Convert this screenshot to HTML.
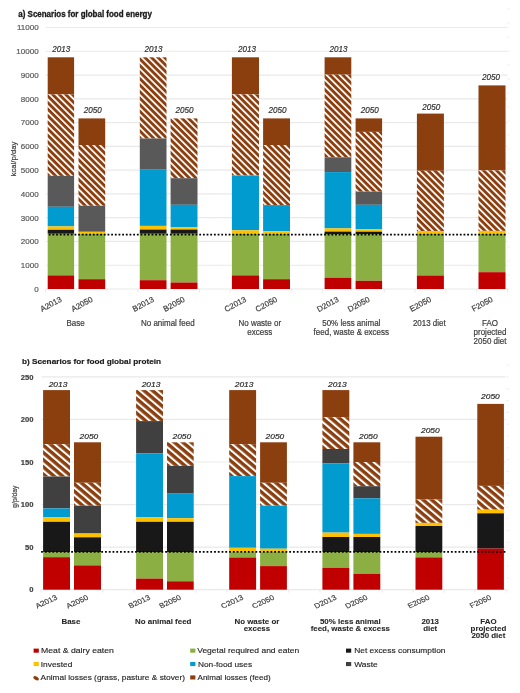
<!DOCTYPE html>
<html><head><meta charset="utf-8"><title>Scenarios for global food energy and protein</title>
<style>html,body{margin:0;padding:0;background:#fff;width:520px;height:693px;overflow:hidden;font-family:"Liberation Sans",sans-serif}</style>
</head><body>
<svg width="520" height="693" viewBox="0 0 520 693" style="display:block;will-change:transform;font-family:&quot;Liberation Sans&quot;, sans-serif">
<defs>
<pattern id="ha_477_944" patternUnits="userSpaceOnUse" width="4.63" height="10" patternTransform="translate(48.1,94.4) scale(1,1) rotate(-45)"><rect width="4.63" height="10" fill="#8B3E0E"/><rect width="1.74" height="10" fill="#fff"/></pattern>
<pattern id="ha_785_1450" patternUnits="userSpaceOnUse" width="4.63" height="10" patternTransform="translate(78.9,145) scale(1,1) rotate(-45)"><rect width="4.63" height="10" fill="#8B3E0E"/><rect width="1.74" height="10" fill="#fff"/></pattern>
<pattern id="ha_1398_573" patternUnits="userSpaceOnUse" width="4.63" height="10" patternTransform="translate(140.2,57.3) scale(1,1) rotate(-45)"><rect width="4.63" height="10" fill="#8B3E0E"/><rect width="1.74" height="10" fill="#fff"/></pattern>
<pattern id="ha_1706_1184" patternUnits="userSpaceOnUse" width="4.63" height="10" patternTransform="translate(171,118.4) scale(1,1) rotate(-45)"><rect width="4.63" height="10" fill="#8B3E0E"/><rect width="1.74" height="10" fill="#fff"/></pattern>
<pattern id="ha_2319_944" patternUnits="userSpaceOnUse" width="4.63" height="10" patternTransform="translate(232.3,94.4) scale(1,1) rotate(-45)"><rect width="4.63" height="10" fill="#8B3E0E"/><rect width="1.74" height="10" fill="#fff"/></pattern>
<pattern id="ha_2631_1450" patternUnits="userSpaceOnUse" width="4.63" height="10" patternTransform="translate(263.5,145) scale(1,1) rotate(-45)"><rect width="4.63" height="10" fill="#8B3E0E"/><rect width="1.74" height="10" fill="#fff"/></pattern>
<pattern id="ha_3246_747" patternUnits="userSpaceOnUse" width="4.63" height="10" patternTransform="translate(325,74.7) scale(1,1) rotate(-45)"><rect width="4.63" height="10" fill="#8B3E0E"/><rect width="1.74" height="10" fill="#fff"/></pattern>
<pattern id="ha_3556_1319" patternUnits="userSpaceOnUse" width="4.63" height="10" patternTransform="translate(356,131.9) scale(1,1) rotate(-45)"><rect width="4.63" height="10" fill="#8B3E0E"/><rect width="1.74" height="10" fill="#fff"/></pattern>
<pattern id="ha_4169_1708" patternUnits="userSpaceOnUse" width="4.63" height="10" patternTransform="translate(417.3,170.8) scale(1,1) rotate(-45)"><rect width="4.63" height="10" fill="#8B3E0E"/><rect width="1.74" height="10" fill="#fff"/></pattern>
<pattern id="ha_4785_1704" patternUnits="userSpaceOnUse" width="4.63" height="10" patternTransform="translate(478.9,170.4) scale(1,1) rotate(-45)"><rect width="4.63" height="10" fill="#8B3E0E"/><rect width="1.74" height="10" fill="#fff"/></pattern>
<pattern id="hb_431_4442" patternUnits="userSpaceOnUse" width="6" height="10" patternTransform="translate(44.6,444.2) scale(1,0.85) rotate(-45)"><rect width="6" height="10" fill="#8B3E0E"/><rect width="2.25" height="10" fill="#fff"/></pattern>
<pattern id="hb_740_4828" patternUnits="userSpaceOnUse" width="6" height="10" patternTransform="translate(75.5,482.8) scale(1,0.85) rotate(-45)"><rect width="6" height="10" fill="#8B3E0E"/><rect width="2.25" height="10" fill="#fff"/></pattern>
<pattern id="hb_1361_3901" patternUnits="userSpaceOnUse" width="6" height="10" patternTransform="translate(137.6,390.1) scale(1,0.85) rotate(-45)"><rect width="6" height="10" fill="#8B3E0E"/><rect width="2.25" height="10" fill="#fff"/></pattern>
<pattern id="hb_1670_4423" patternUnits="userSpaceOnUse" width="6" height="10" patternTransform="translate(168.5,442.3) scale(1,0.85) rotate(-45)"><rect width="6" height="10" fill="#8B3E0E"/><rect width="2.25" height="10" fill="#fff"/></pattern>
<pattern id="hb_2292_4442" patternUnits="userSpaceOnUse" width="6" height="10" patternTransform="translate(230.7,444.2) scale(1,0.85) rotate(-45)"><rect width="6" height="10" fill="#8B3E0E"/><rect width="2.25" height="10" fill="#fff"/></pattern>
<pattern id="hb_2601_4828" patternUnits="userSpaceOnUse" width="6" height="10" patternTransform="translate(261.6,482.8) scale(1,0.85) rotate(-45)"><rect width="6" height="10" fill="#8B3E0E"/><rect width="2.25" height="10" fill="#fff"/></pattern>
<pattern id="hb_3224_4172" patternUnits="userSpaceOnUse" width="6" height="10" patternTransform="translate(323.9,417.2) scale(1,0.85) rotate(-45)"><rect width="6" height="10" fill="#8B3E0E"/><rect width="2.25" height="10" fill="#fff"/></pattern>
<pattern id="hb_3534_4620" patternUnits="userSpaceOnUse" width="6" height="10" patternTransform="translate(354.9,462) scale(1,0.85) rotate(-45)"><rect width="6" height="10" fill="#8B3E0E"/><rect width="2.25" height="10" fill="#fff"/></pattern>
<pattern id="hb_4155_4996" patternUnits="userSpaceOnUse" width="6" height="10" patternTransform="translate(417,499.6) scale(1,0.85) rotate(-45)"><rect width="6" height="10" fill="#8B3E0E"/><rect width="2.25" height="10" fill="#fff"/></pattern>
<pattern id="hb_4773_4859" patternUnits="userSpaceOnUse" width="6" height="10" patternTransform="translate(478.8,485.9) scale(1,0.85) rotate(-45)"><rect width="6" height="10" fill="#8B3E0E"/><rect width="2.25" height="10" fill="#fff"/></pattern>
</defs>
<text transform="translate(18.3,16.9) scale(1,1.1)" font-size="8.1" text-anchor="start" font-weight="bold" fill="#1a1a1a" stroke="#1a1a1a" stroke-width="0.3" textLength="133.6" lengthAdjust="spacingAndGlyphs">a) Scenarios for global food energy</text>
<line x1="46" x2="507.5" y1="289" y2="289" stroke="#e9e9e9" stroke-width="1.2"/>
<text x="38.6" y="291.9" font-size="8" text-anchor="end" fill="#595959" stroke="#595959" stroke-width="0.2">0</text>
<line x1="46" x2="507.5" y1="265.23" y2="265.23" stroke="#e9e9e9" stroke-width="1.2"/>
<text x="38.6" y="268.13" font-size="8" text-anchor="end" fill="#595959" stroke="#595959" stroke-width="0.2">1000</text>
<line x1="46" x2="507.5" y1="241.45" y2="241.45" stroke="#e9e9e9" stroke-width="1.2"/>
<text x="38.6" y="244.35" font-size="8" text-anchor="end" fill="#595959" stroke="#595959" stroke-width="0.2">2000</text>
<line x1="46" x2="507.5" y1="217.68" y2="217.68" stroke="#e9e9e9" stroke-width="1.2"/>
<text x="38.6" y="220.58" font-size="8" text-anchor="end" fill="#595959" stroke="#595959" stroke-width="0.2">3000</text>
<line x1="46" x2="507.5" y1="193.91" y2="193.91" stroke="#e9e9e9" stroke-width="1.2"/>
<text x="38.6" y="196.81" font-size="8" text-anchor="end" fill="#595959" stroke="#595959" stroke-width="0.2">4000</text>
<line x1="46" x2="507.5" y1="170.14" y2="170.14" stroke="#e9e9e9" stroke-width="1.2"/>
<text x="38.6" y="173.04" font-size="8" text-anchor="end" fill="#595959" stroke="#595959" stroke-width="0.2">5000</text>
<line x1="46" x2="507.5" y1="146.36" y2="146.36" stroke="#e9e9e9" stroke-width="1.2"/>
<text x="38.6" y="149.26" font-size="8" text-anchor="end" fill="#595959" stroke="#595959" stroke-width="0.2">6000</text>
<line x1="46" x2="507.5" y1="122.59" y2="122.59" stroke="#e9e9e9" stroke-width="1.2"/>
<text x="38.6" y="125.49" font-size="8" text-anchor="end" fill="#595959" stroke="#595959" stroke-width="0.2">7000</text>
<line x1="46" x2="507.5" y1="98.82" y2="98.82" stroke="#e9e9e9" stroke-width="1.2"/>
<text x="38.6" y="101.72" font-size="8" text-anchor="end" fill="#595959" stroke="#595959" stroke-width="0.2">8000</text>
<line x1="46" x2="507.5" y1="75.05" y2="75.05" stroke="#e9e9e9" stroke-width="1.2"/>
<text x="38.6" y="77.95" font-size="8" text-anchor="end" fill="#595959" stroke="#595959" stroke-width="0.2">9000</text>
<line x1="46" x2="507.5" y1="51.27" y2="51.27" stroke="#e9e9e9" stroke-width="1.2"/>
<text x="38.6" y="54.17" font-size="8" text-anchor="end" fill="#595959" stroke="#595959" stroke-width="0.2">10000</text>
<line x1="46" x2="507.5" y1="27.5" y2="27.5" stroke="#e9e9e9" stroke-width="1.2"/>
<text x="38.6" y="30.4" font-size="8" text-anchor="end" fill="#595959" stroke="#595959" stroke-width="0.2">11000</text>
<line x1="507.5" x2="509.5" y1="289" y2="289" stroke="#e4e4e4" stroke-width="0.8"/>
<line x1="507.5" x2="509.5" y1="275" y2="275" stroke="#e4e4e4" stroke-width="0.8"/>
<line x1="507.5" x2="509.5" y1="261" y2="261" stroke="#e4e4e4" stroke-width="0.8"/>
<line x1="507.5" x2="509.5" y1="247" y2="247" stroke="#e4e4e4" stroke-width="0.8"/>
<line x1="507.5" x2="509.5" y1="233" y2="233" stroke="#e4e4e4" stroke-width="0.8"/>
<line x1="507.5" x2="509.5" y1="219" y2="219" stroke="#e4e4e4" stroke-width="0.8"/>
<line x1="507.5" x2="509.5" y1="205" y2="205" stroke="#e4e4e4" stroke-width="0.8"/>
<line x1="507.5" x2="509.5" y1="191" y2="191" stroke="#e4e4e4" stroke-width="0.8"/>
<line x1="507.5" x2="509.5" y1="177" y2="177" stroke="#e4e4e4" stroke-width="0.8"/>
<line x1="507.5" x2="509.5" y1="163" y2="163" stroke="#e4e4e4" stroke-width="0.8"/>
<line x1="507.5" x2="509.5" y1="149" y2="149" stroke="#e4e4e4" stroke-width="0.8"/>
<line x1="507.5" x2="509.5" y1="135" y2="135" stroke="#e4e4e4" stroke-width="0.8"/>
<line x1="507.5" x2="509.5" y1="121" y2="121" stroke="#e4e4e4" stroke-width="0.8"/>
<line x1="507.5" x2="509.5" y1="107" y2="107" stroke="#e4e4e4" stroke-width="0.8"/>
<line x1="507.5" x2="509.5" y1="93" y2="93" stroke="#e4e4e4" stroke-width="0.8"/>
<line x1="507.5" x2="509.5" y1="79" y2="79" stroke="#e4e4e4" stroke-width="0.8"/>
<line x1="507.5" x2="509.5" y1="65" y2="65" stroke="#e4e4e4" stroke-width="0.8"/>
<line x1="507.5" x2="509.5" y1="51" y2="51" stroke="#e4e4e4" stroke-width="0.8"/>
<line x1="507.5" x2="509.5" y1="37" y2="37" stroke="#e4e4e4" stroke-width="0.8"/>
<line x1="507.5" x2="509.5" y1="23" y2="23" stroke="#e4e4e4" stroke-width="0.8"/>
<line x1="507.5" x2="509.5" y1="9" y2="9" stroke="#e4e4e4" stroke-width="0.8"/>
<line x1="45.5" x2="45.5" y1="289" y2="292.5" stroke="#e6e6e6" stroke-width="0.9"/>
<line x1="107.1" x2="107.1" y1="289" y2="292.5" stroke="#e6e6e6" stroke-width="0.9"/>
<line x1="137.9" x2="137.9" y1="289" y2="292.5" stroke="#e6e6e6" stroke-width="0.9"/>
<line x1="199.5" x2="199.5" y1="289" y2="292.5" stroke="#e6e6e6" stroke-width="0.9"/>
<line x1="230.3" x2="230.3" y1="289" y2="292.5" stroke="#e6e6e6" stroke-width="0.9"/>
<line x1="291.9" x2="291.9" y1="289" y2="292.5" stroke="#e6e6e6" stroke-width="0.9"/>
<line x1="322.7" x2="322.7" y1="289" y2="292.5" stroke="#e6e6e6" stroke-width="0.9"/>
<line x1="384.3" x2="384.3" y1="289" y2="292.5" stroke="#e6e6e6" stroke-width="0.9"/>
<line x1="415.1" x2="415.1" y1="289" y2="292.5" stroke="#e6e6e6" stroke-width="0.9"/>
<line x1="445.9" x2="445.9" y1="289" y2="292.5" stroke="#e6e6e6" stroke-width="0.9"/>
<line x1="476.7" x2="476.7" y1="289" y2="292.5" stroke="#e6e6e6" stroke-width="0.9"/>
<line x1="507.5" x2="507.5" y1="289" y2="292.5" stroke="#e6e6e6" stroke-width="0.9"/>
<rect x="47.7" y="57.3" width="26.4" height="37.1" fill="#8B3E0E"/>
<rect x="47.7" y="94.4" width="26.4" height="81.5" fill="url(#ha_477_944)"/>
<rect x="47.7" y="175.9" width="26.4" height="30.9" fill="#595959"/>
<rect x="47.7" y="206.8" width="26.4" height="19.6" fill="#029BCF"/>
<rect x="47.7" y="226.4" width="26.4" height="3.4" fill="#FFC000"/>
<rect x="47.7" y="229.8" width="26.4" height="4" fill="#191819"/>
<rect x="47.7" y="233.8" width="26.4" height="41.6" fill="#8BAF42"/>
<rect x="47.7" y="275.4" width="26.4" height="13.6" fill="#C00000"/>
<rect x="78.5" y="118.4" width="26.7" height="26.6" fill="#8B3E0E"/>
<rect x="78.5" y="145" width="26.7" height="60.8" fill="url(#ha_785_1450)"/>
<rect x="78.5" y="205.8" width="26.7" height="26" fill="#595959"/>
<rect x="78.5" y="231.8" width="26.7" height="2" fill="#FFC000"/>
<rect x="78.5" y="233.8" width="26.7" height="45.4" fill="#8BAF42"/>
<rect x="78.5" y="279.2" width="26.7" height="9.8" fill="#C00000"/>
<rect x="139.8" y="57.3" width="26.7" height="81.2" fill="url(#ha_1398_573)"/>
<rect x="139.8" y="138.5" width="26.7" height="31.2" fill="#595959"/>
<rect x="139.8" y="169.7" width="26.7" height="56.2" fill="#029BCF"/>
<rect x="139.8" y="225.9" width="26.7" height="3.7" fill="#FFC000"/>
<rect x="139.8" y="229.6" width="26.7" height="4.2" fill="#191819"/>
<rect x="139.8" y="233.8" width="26.7" height="46.4" fill="#8BAF42"/>
<rect x="139.8" y="280.2" width="26.7" height="8.8" fill="#C00000"/>
<rect x="170.6" y="118.4" width="26.9" height="59.8" fill="url(#ha_1706_1184)"/>
<rect x="170.6" y="178.2" width="26.9" height="26.6" fill="#595959"/>
<rect x="170.6" y="204.8" width="26.9" height="22.5" fill="#029BCF"/>
<rect x="170.6" y="227.3" width="26.9" height="2.3" fill="#FFC000"/>
<rect x="170.6" y="229.6" width="26.9" height="4.2" fill="#191819"/>
<rect x="170.6" y="233.8" width="26.9" height="48.7" fill="#8BAF42"/>
<rect x="170.6" y="282.5" width="26.9" height="6.5" fill="#C00000"/>
<rect x="231.9" y="57.3" width="27.1" height="37.1" fill="#8B3E0E"/>
<rect x="231.9" y="94.4" width="27.1" height="81.1" fill="url(#ha_2319_944)"/>
<rect x="231.9" y="175.5" width="27.1" height="54.8" fill="#029BCF"/>
<rect x="231.9" y="230.3" width="27.1" height="3.5" fill="#FFC000"/>
<rect x="231.9" y="233.8" width="27.1" height="41.6" fill="#8BAF42"/>
<rect x="231.9" y="275.4" width="27.1" height="13.6" fill="#C00000"/>
<rect x="263.1" y="118.4" width="26.9" height="26.6" fill="#8B3E0E"/>
<rect x="263.1" y="145" width="26.9" height="60.1" fill="url(#ha_2631_1450)"/>
<rect x="263.1" y="205.1" width="26.9" height="26.2" fill="#029BCF"/>
<rect x="263.1" y="231.3" width="26.9" height="2.5" fill="#FFC000"/>
<rect x="263.1" y="233.8" width="26.9" height="45.4" fill="#8BAF42"/>
<rect x="263.1" y="279.2" width="26.9" height="9.8" fill="#C00000"/>
<rect x="324.6" y="57.3" width="26.7" height="17.4" fill="#8B3E0E"/>
<rect x="324.6" y="74.7" width="26.7" height="82.6" fill="url(#ha_3246_747)"/>
<rect x="324.6" y="157.3" width="26.7" height="14.8" fill="#595959"/>
<rect x="324.6" y="172.1" width="26.7" height="56.3" fill="#029BCF"/>
<rect x="324.6" y="228.4" width="26.7" height="3.2" fill="#FFC000"/>
<rect x="324.6" y="231.6" width="26.7" height="2.4" fill="#191819"/>
<rect x="324.6" y="234" width="26.7" height="43.7" fill="#8BAF42"/>
<rect x="324.6" y="277.7" width="26.7" height="11.3" fill="#C00000"/>
<rect x="355.6" y="118.4" width="26.5" height="13.5" fill="#8B3E0E"/>
<rect x="355.6" y="131.9" width="26.5" height="59.7" fill="url(#ha_3556_1319)"/>
<rect x="355.6" y="191.6" width="26.5" height="13.2" fill="#595959"/>
<rect x="355.6" y="204.8" width="26.5" height="24.5" fill="#029BCF"/>
<rect x="355.6" y="229.3" width="26.5" height="2.4" fill="#FFC000"/>
<rect x="355.6" y="231.7" width="26.5" height="2.3" fill="#191819"/>
<rect x="355.6" y="234" width="26.5" height="46.8" fill="#8BAF42"/>
<rect x="355.6" y="280.8" width="26.5" height="8.2" fill="#C00000"/>
<rect x="416.9" y="113.6" width="27" height="57.2" fill="#8B3E0E"/>
<rect x="416.9" y="170.8" width="27" height="60.2" fill="url(#ha_4169_1708)"/>
<rect x="416.9" y="231" width="27" height="2.8" fill="#FFC000"/>
<rect x="416.9" y="233.8" width="27" height="41.7" fill="#8BAF42"/>
<rect x="416.9" y="275.5" width="27" height="13.5" fill="#C00000"/>
<rect x="478.5" y="85.4" width="27" height="85" fill="#8B3E0E"/>
<rect x="478.5" y="170.4" width="27" height="60.5" fill="url(#ha_4785_1704)"/>
<rect x="478.5" y="230.9" width="27" height="2.9" fill="#FFC000"/>
<rect x="478.5" y="233.8" width="27" height="38.4" fill="#8BAF42"/>
<rect x="478.5" y="272.2" width="27" height="16.8" fill="#C00000"/>
<line x1="48.8" x2="505.7" y1="234.7" y2="234.7" stroke="#000" stroke-width="1.8" stroke-dasharray="1.8 1.87"/>
<rect x="51.75" y="44.7" width="19.6" height="8" fill="#fff"/>
<text transform="translate(61.35,52.2) scale(1,1.1)" font-size="8.1" text-anchor="middle" font-style="italic" fill="#333333" stroke="#333333" stroke-width="0.2">2013</text>
<rect x="83.2" y="105.4" width="19.6" height="8" fill="#fff"/>
<text transform="translate(92.8,112.9) scale(1,1.1)" font-size="8.1" text-anchor="middle" font-style="italic" fill="#333333" stroke="#333333" stroke-width="0.2">2050</text>
<rect x="143.95" y="44.7" width="19.6" height="8" fill="#fff"/>
<text transform="translate(153.55,52.2) scale(1,1.1)" font-size="8.1" text-anchor="middle" font-style="italic" fill="#333333" stroke="#333333" stroke-width="0.2">2013</text>
<rect x="174.95" y="105.4" width="19.6" height="8" fill="#fff"/>
<text transform="translate(184.55,112.9) scale(1,1.1)" font-size="8.1" text-anchor="middle" font-style="italic" fill="#333333" stroke="#333333" stroke-width="0.2">2050</text>
<rect x="237.35" y="44.7" width="19.6" height="8" fill="#fff"/>
<text transform="translate(246.95,52.2) scale(1,1.1)" font-size="8.1" text-anchor="middle" font-style="italic" fill="#333333" stroke="#333333" stroke-width="0.2">2013</text>
<rect x="267.85" y="105.4" width="19.6" height="8" fill="#fff"/>
<text transform="translate(277.45,112.9) scale(1,1.1)" font-size="8.1" text-anchor="middle" font-style="italic" fill="#333333" stroke="#333333" stroke-width="0.2">2050</text>
<rect x="328.95" y="44.7" width="19.6" height="8" fill="#fff"/>
<text transform="translate(338.55,52.2) scale(1,1.1)" font-size="8.1" text-anchor="middle" font-style="italic" fill="#333333" stroke="#333333" stroke-width="0.2">2013</text>
<rect x="360.25" y="105.4" width="19.6" height="8" fill="#fff"/>
<text transform="translate(369.85,112.9) scale(1,1.1)" font-size="8.1" text-anchor="middle" font-style="italic" fill="#333333" stroke="#333333" stroke-width="0.2">2050</text>
<rect x="421.65" y="102" width="19.6" height="8" fill="#fff"/>
<text transform="translate(431.25,109.5) scale(1,1.1)" font-size="8.1" text-anchor="middle" font-style="italic" fill="#333333" stroke="#333333" stroke-width="0.2">2050</text>
<rect x="481.35" y="72" width="19.6" height="8" fill="#fff"/>
<text transform="translate(490.95,79.5) scale(1,1.1)" font-size="8.1" text-anchor="middle" font-style="italic" fill="#333333" stroke="#333333" stroke-width="0.2">2050</text>
<text transform="translate(62.4,301.1) rotate(-28)" font-size="8" text-anchor="end" fill="#404040" stroke="#404040" stroke-width="0.2">A2013</text>
<text transform="translate(93.35,301.1) rotate(-28)" font-size="8" text-anchor="end" fill="#404040" stroke="#404040" stroke-width="0.2">A2050</text>
<text transform="translate(154.65,301.1) rotate(-28)" font-size="8" text-anchor="end" fill="#404040" stroke="#404040" stroke-width="0.2">B2013</text>
<text transform="translate(185.55,301.1) rotate(-28)" font-size="8" text-anchor="end" fill="#404040" stroke="#404040" stroke-width="0.2">B2050</text>
<text transform="translate(246.95,301.1) rotate(-28)" font-size="8" text-anchor="end" fill="#404040" stroke="#404040" stroke-width="0.2">C2013</text>
<text transform="translate(278.05,301.1) rotate(-28)" font-size="8" text-anchor="end" fill="#404040" stroke="#404040" stroke-width="0.2">C2050</text>
<text transform="translate(339.45,301.1) rotate(-28)" font-size="8" text-anchor="end" fill="#404040" stroke="#404040" stroke-width="0.2">D2013</text>
<text transform="translate(370.35,301.1) rotate(-28)" font-size="8" text-anchor="end" fill="#404040" stroke="#404040" stroke-width="0.2">D2050</text>
<text transform="translate(431.9,301.1) rotate(-28)" font-size="8" text-anchor="end" fill="#404040" stroke="#404040" stroke-width="0.2">E2050</text>
<text transform="translate(493.5,301.1) rotate(-28)" font-size="8" text-anchor="end" fill="#404040" stroke="#404040" stroke-width="0.2">F2050</text>
<text transform="translate(16.1,159) rotate(-90)" font-size="7.75" text-anchor="middle" fill="#404040" stroke="#404040" stroke-width="0.2">kcal/p/day</text>
<text transform="translate(75.5,326.2) scale(1,1.1)" font-size="8" text-anchor="middle" fill="#404040" stroke="#404040" stroke-width="0.2">Base</text>
<text transform="translate(167.8,326.2) scale(1,1.1)" font-size="8" text-anchor="middle" fill="#404040" stroke="#404040" stroke-width="0.2">No animal feed</text>
<text transform="translate(259.8,326.2) scale(1,1.1)" font-size="8" text-anchor="middle" fill="#404040" stroke="#404040" stroke-width="0.2">No waste or</text>
<text transform="translate(259.8,335.1) scale(1,1.1)" font-size="8" text-anchor="middle" fill="#404040" stroke="#404040" stroke-width="0.2">excess</text>
<text transform="translate(351.3,326.2) scale(1,1.1)" font-size="8" text-anchor="middle" fill="#404040" stroke="#404040" stroke-width="0.2">50% less animal</text>
<text transform="translate(351.3,335.1) scale(1,1.1)" font-size="8" text-anchor="middle" fill="#404040" stroke="#404040" stroke-width="0.2">feed, waste &amp; excess</text>
<text transform="translate(429.3,326.2) scale(1,1.1)" font-size="8" text-anchor="middle" fill="#404040" stroke="#404040" stroke-width="0.2">2013 diet</text>
<text transform="translate(490,326.2) scale(1,1.1)" font-size="8" text-anchor="middle" fill="#404040" stroke="#404040" stroke-width="0.2">FAO</text>
<text transform="translate(490,335.1) scale(1,1.1)" font-size="8" text-anchor="middle" fill="#404040" stroke="#404040" stroke-width="0.2">projected</text>
<text transform="translate(490,344) scale(1,1.1)" font-size="8" text-anchor="middle" fill="#404040" stroke="#404040" stroke-width="0.2">2050 diet</text>
<text transform="translate(22,364.2) scale(1,0.85)" font-size="8.3" text-anchor="start" font-weight="bold" fill="#1a1a1a" stroke="#1a1a1a" stroke-width="0.2" textLength="139.0" lengthAdjust="spacingAndGlyphs">b) Scenarios for food global protein</text>
<line x1="41.5" x2="505.5" y1="589.7" y2="589.7" stroke="#e9e9e9" stroke-width="1.2"/>
<text transform="translate(33.4,592.4) scale(1,0.92)" font-size="7.6" text-anchor="end" font-weight="bold" fill="#404040" stroke="#404040" stroke-width="0.2">0</text>
<line x1="41.5" x2="505.5" y1="547.14" y2="547.14" stroke="#e9e9e9" stroke-width="1.2"/>
<text transform="translate(33.4,549.84) scale(1,0.92)" font-size="7.6" text-anchor="end" font-weight="bold" fill="#404040" stroke="#404040" stroke-width="0.2">50</text>
<line x1="41.5" x2="505.5" y1="504.58" y2="504.58" stroke="#e9e9e9" stroke-width="1.2"/>
<text transform="translate(33.4,507.28) scale(1,0.92)" font-size="7.6" text-anchor="end" font-weight="bold" fill="#404040" stroke="#404040" stroke-width="0.2">100</text>
<line x1="41.5" x2="505.5" y1="462.02" y2="462.02" stroke="#e9e9e9" stroke-width="1.2"/>
<text transform="translate(33.4,464.72) scale(1,0.92)" font-size="7.6" text-anchor="end" font-weight="bold" fill="#404040" stroke="#404040" stroke-width="0.2">150</text>
<line x1="41.5" x2="505.5" y1="419.46" y2="419.46" stroke="#e9e9e9" stroke-width="1.2"/>
<text transform="translate(33.4,422.16) scale(1,0.92)" font-size="7.6" text-anchor="end" font-weight="bold" fill="#404040" stroke="#404040" stroke-width="0.2">200</text>
<line x1="41.5" x2="505.5" y1="376.9" y2="376.9" stroke="#e9e9e9" stroke-width="1.2"/>
<text transform="translate(33.4,379.6) scale(1,0.92)" font-size="7.6" text-anchor="end" font-weight="bold" fill="#404040" stroke="#404040" stroke-width="0.2">250</text>
<line x1="506.5" x2="508.5" y1="589.7" y2="589.7" stroke="#e4e4e4" stroke-width="0.8"/>
<line x1="506.5" x2="508.5" y1="577.88" y2="577.88" stroke="#e4e4e4" stroke-width="0.8"/>
<line x1="506.5" x2="508.5" y1="566.06" y2="566.06" stroke="#e4e4e4" stroke-width="0.8"/>
<line x1="506.5" x2="508.5" y1="554.23" y2="554.23" stroke="#e4e4e4" stroke-width="0.8"/>
<line x1="506.5" x2="508.5" y1="542.41" y2="542.41" stroke="#e4e4e4" stroke-width="0.8"/>
<line x1="506.5" x2="508.5" y1="530.59" y2="530.59" stroke="#e4e4e4" stroke-width="0.8"/>
<line x1="506.5" x2="508.5" y1="518.77" y2="518.77" stroke="#e4e4e4" stroke-width="0.8"/>
<line x1="506.5" x2="508.5" y1="506.94" y2="506.94" stroke="#e4e4e4" stroke-width="0.8"/>
<line x1="506.5" x2="508.5" y1="495.12" y2="495.12" stroke="#e4e4e4" stroke-width="0.8"/>
<line x1="506.5" x2="508.5" y1="483.3" y2="483.3" stroke="#e4e4e4" stroke-width="0.8"/>
<line x1="506.5" x2="508.5" y1="471.48" y2="471.48" stroke="#e4e4e4" stroke-width="0.8"/>
<line x1="506.5" x2="508.5" y1="459.66" y2="459.66" stroke="#e4e4e4" stroke-width="0.8"/>
<line x1="506.5" x2="508.5" y1="447.83" y2="447.83" stroke="#e4e4e4" stroke-width="0.8"/>
<line x1="506.5" x2="508.5" y1="436.01" y2="436.01" stroke="#e4e4e4" stroke-width="0.8"/>
<line x1="506.5" x2="508.5" y1="424.19" y2="424.19" stroke="#e4e4e4" stroke-width="0.8"/>
<line x1="506.5" x2="508.5" y1="412.37" y2="412.37" stroke="#e4e4e4" stroke-width="0.8"/>
<line x1="506.5" x2="508.5" y1="400.54" y2="400.54" stroke="#e4e4e4" stroke-width="0.8"/>
<line x1="506.5" x2="508.5" y1="388.72" y2="388.72" stroke="#e4e4e4" stroke-width="0.8"/>
<line x1="506.5" x2="508.5" y1="376.9" y2="376.9" stroke="#e4e4e4" stroke-width="0.8"/>
<line x1="506.5" x2="508.5" y1="365.08" y2="365.08" stroke="#e4e4e4" stroke-width="0.8"/>
<line x1="41" x2="41" y1="589.7" y2="592.7" stroke="#e6e6e6" stroke-width="0.9"/>
<line x1="103" x2="103" y1="589.7" y2="592.7" stroke="#e6e6e6" stroke-width="0.9"/>
<line x1="134" x2="134" y1="589.7" y2="592.7" stroke="#e6e6e6" stroke-width="0.9"/>
<line x1="196" x2="196" y1="589.7" y2="592.7" stroke="#e6e6e6" stroke-width="0.9"/>
<line x1="227" x2="227" y1="589.7" y2="592.7" stroke="#e6e6e6" stroke-width="0.9"/>
<line x1="289" x2="289" y1="589.7" y2="592.7" stroke="#e6e6e6" stroke-width="0.9"/>
<line x1="320" x2="320" y1="589.7" y2="592.7" stroke="#e6e6e6" stroke-width="0.9"/>
<line x1="382" x2="382" y1="589.7" y2="592.7" stroke="#e6e6e6" stroke-width="0.9"/>
<line x1="413" x2="413" y1="589.7" y2="592.7" stroke="#e6e6e6" stroke-width="0.9"/>
<line x1="444" x2="444" y1="589.7" y2="592.7" stroke="#e6e6e6" stroke-width="0.9"/>
<line x1="475" x2="475" y1="589.7" y2="592.7" stroke="#e6e6e6" stroke-width="0.9"/>
<line x1="506" x2="506" y1="589.7" y2="592.7" stroke="#e6e6e6" stroke-width="0.9"/>
<rect x="43.1" y="390.1" width="26.9" height="54.1" fill="#8B3E0E"/>
<rect x="43.1" y="444.2" width="26.9" height="32.3" fill="url(#hb_431_4442)"/>
<rect x="43.1" y="476.5" width="26.9" height="31.9" fill="#404040"/>
<rect x="43.1" y="508.4" width="26.9" height="8.7" fill="#029BCF"/>
<rect x="43.1" y="517.1" width="26.9" height="4.7" fill="#FFC000"/>
<rect x="43.1" y="521.8" width="26.9" height="30.3" fill="#191819"/>
<rect x="43.1" y="552.1" width="26.9" height="5.1" fill="#8BAF42"/>
<rect x="43.1" y="557.2" width="26.9" height="32.5" fill="#C00000"/>
<rect x="74" y="442.3" width="27" height="40.5" fill="#8B3E0E"/>
<rect x="74" y="482.8" width="27" height="22.9" fill="url(#hb_740_4828)"/>
<rect x="74" y="505.7" width="27" height="27.8" fill="#404040"/>
<rect x="74" y="533.5" width="27" height="3.8" fill="#FFC000"/>
<rect x="74" y="537.3" width="27" height="14.7" fill="#191819"/>
<rect x="74" y="552" width="27" height="13.4" fill="#8BAF42"/>
<rect x="74" y="565.4" width="27" height="24.3" fill="#C00000"/>
<rect x="136.1" y="390.1" width="26.9" height="31" fill="url(#hb_1361_3901)"/>
<rect x="136.1" y="421.1" width="26.9" height="32.2" fill="#404040"/>
<rect x="136.1" y="453.3" width="26.9" height="63.8" fill="#029BCF"/>
<rect x="136.1" y="517.1" width="26.9" height="4.7" fill="#FFC000"/>
<rect x="136.1" y="521.8" width="26.9" height="30.2" fill="#191819"/>
<rect x="136.1" y="552" width="26.9" height="26.6" fill="#8BAF42"/>
<rect x="136.1" y="578.6" width="26.9" height="11.1" fill="#C00000"/>
<rect x="167" y="442.3" width="26.7" height="23.6" fill="url(#hb_1670_4423)"/>
<rect x="167" y="465.9" width="26.7" height="27.7" fill="#404040"/>
<rect x="167" y="493.6" width="26.7" height="24.6" fill="#029BCF"/>
<rect x="167" y="518.2" width="26.7" height="3.6" fill="#FFC000"/>
<rect x="167" y="521.8" width="26.7" height="30.2" fill="#191819"/>
<rect x="167" y="552" width="26.7" height="29.3" fill="#8BAF42"/>
<rect x="167" y="581.3" width="26.7" height="8.4" fill="#C00000"/>
<rect x="229.2" y="390.1" width="26.9" height="54.1" fill="#8B3E0E"/>
<rect x="229.2" y="444.2" width="26.9" height="31.9" fill="url(#hb_2292_4442)"/>
<rect x="229.2" y="476.1" width="26.9" height="71.7" fill="#029BCF"/>
<rect x="229.2" y="547.8" width="26.9" height="4.3" fill="#FFC000"/>
<rect x="229.2" y="552.1" width="26.9" height="5.4" fill="#8BAF42"/>
<rect x="229.2" y="557.5" width="26.9" height="32.2" fill="#C00000"/>
<rect x="260.1" y="442.3" width="26.8" height="40.5" fill="#8B3E0E"/>
<rect x="260.1" y="482.8" width="26.8" height="22.9" fill="url(#hb_2601_4828)"/>
<rect x="260.1" y="505.7" width="26.8" height="43" fill="#029BCF"/>
<rect x="260.1" y="548.7" width="26.8" height="3.3" fill="#FFC000"/>
<rect x="260.1" y="552" width="26.8" height="14.1" fill="#8BAF42"/>
<rect x="260.1" y="566.1" width="26.8" height="23.6" fill="#C00000"/>
<rect x="322.4" y="390.1" width="26.9" height="27.1" fill="#8B3E0E"/>
<rect x="322.4" y="417.2" width="26.9" height="31.8" fill="url(#hb_3224_4172)"/>
<rect x="322.4" y="449" width="26.9" height="14.4" fill="#404040"/>
<rect x="322.4" y="463.4" width="26.9" height="69.2" fill="#029BCF"/>
<rect x="322.4" y="532.6" width="26.9" height="4.4" fill="#FFC000"/>
<rect x="322.4" y="537" width="26.9" height="15" fill="#191819"/>
<rect x="322.4" y="552" width="26.9" height="15.8" fill="#8BAF42"/>
<rect x="322.4" y="567.8" width="26.9" height="21.9" fill="#C00000"/>
<rect x="353.4" y="442.3" width="26.9" height="19.7" fill="#8B3E0E"/>
<rect x="353.4" y="462" width="26.9" height="24.2" fill="url(#hb_3534_4620)"/>
<rect x="353.4" y="486.2" width="26.9" height="12.1" fill="#404040"/>
<rect x="353.4" y="498.3" width="26.9" height="35.6" fill="#029BCF"/>
<rect x="353.4" y="533.9" width="26.9" height="3.1" fill="#FFC000"/>
<rect x="353.4" y="537" width="26.9" height="15" fill="#191819"/>
<rect x="353.4" y="552" width="26.9" height="21.8" fill="#8BAF42"/>
<rect x="353.4" y="573.8" width="26.9" height="15.9" fill="#C00000"/>
<rect x="415.5" y="436.7" width="26.8" height="62.9" fill="#8B3E0E"/>
<rect x="415.5" y="499.6" width="26.8" height="23.3" fill="url(#hb_4155_4996)"/>
<rect x="415.5" y="522.9" width="26.8" height="3.1" fill="#FFC000"/>
<rect x="415.5" y="526" width="26.8" height="26" fill="#191819"/>
<rect x="415.5" y="552" width="26.8" height="5.4" fill="#8BAF42"/>
<rect x="415.5" y="557.4" width="26.8" height="32.3" fill="#C00000"/>
<rect x="477.3" y="403.9" width="26.6" height="82" fill="#8B3E0E"/>
<rect x="477.3" y="485.9" width="26.6" height="23.8" fill="url(#hb_4773_4859)"/>
<rect x="477.3" y="509.7" width="26.6" height="3.6" fill="#FFC000"/>
<rect x="477.3" y="513.3" width="26.6" height="35.3" fill="#191819"/>
<rect x="477.3" y="548.6" width="26.6" height="41.1" fill="#C00000"/>
<line x1="41.1" x2="505.4" y1="551.9" y2="551.9" stroke="#000" stroke-width="1.75" stroke-dasharray="1.8 1.96"/>
<rect x="47.5" y="380.6" width="21" height="7" fill="#fff"/>
<text transform="translate(58,386.6) scale(1,0.85)" font-size="8.4" text-anchor="middle" font-style="italic" fill="#262626" stroke="#262626" stroke-width="0.2">2013</text>
<rect x="78.45" y="432.8" width="21" height="7" fill="#fff"/>
<text transform="translate(88.95,438.8) scale(1,0.85)" font-size="8.4" text-anchor="middle" font-style="italic" fill="#262626" stroke="#262626" stroke-width="0.2">2050</text>
<rect x="140.5" y="380.6" width="21" height="7" fill="#fff"/>
<text transform="translate(151,386.6) scale(1,0.85)" font-size="8.4" text-anchor="middle" font-style="italic" fill="#262626" stroke="#262626" stroke-width="0.2">2013</text>
<rect x="171.3" y="432.8" width="21" height="7" fill="#fff"/>
<text transform="translate(181.8,438.8) scale(1,0.85)" font-size="8.4" text-anchor="middle" font-style="italic" fill="#262626" stroke="#262626" stroke-width="0.2">2050</text>
<rect x="233.6" y="380.6" width="21" height="7" fill="#fff"/>
<text transform="translate(244.1,386.6) scale(1,0.85)" font-size="8.4" text-anchor="middle" font-style="italic" fill="#262626" stroke="#262626" stroke-width="0.2">2013</text>
<rect x="264.45" y="432.8" width="21" height="7" fill="#fff"/>
<text transform="translate(274.95,438.8) scale(1,0.85)" font-size="8.4" text-anchor="middle" font-style="italic" fill="#262626" stroke="#262626" stroke-width="0.2">2050</text>
<rect x="326.8" y="380.6" width="21" height="7" fill="#fff"/>
<text transform="translate(337.3,386.6) scale(1,0.85)" font-size="8.4" text-anchor="middle" font-style="italic" fill="#262626" stroke="#262626" stroke-width="0.2">2013</text>
<rect x="357.8" y="432.8" width="21" height="7" fill="#fff"/>
<text transform="translate(368.3,438.8) scale(1,0.85)" font-size="8.4" text-anchor="middle" font-style="italic" fill="#262626" stroke="#262626" stroke-width="0.2">2050</text>
<rect x="419.85" y="427.2" width="21" height="7" fill="#fff"/>
<text transform="translate(430.35,433.2) scale(1,0.85)" font-size="8.4" text-anchor="middle" font-style="italic" fill="#262626" stroke="#262626" stroke-width="0.2">2050</text>
<rect x="479.95" y="393.1" width="21" height="7" fill="#fff"/>
<text transform="translate(490.45,399.1) scale(1,0.85)" font-size="8.4" text-anchor="middle" font-style="italic" fill="#262626" stroke="#262626" stroke-width="0.2">2050</text>
<text transform="translate(58.05,599) scale(1,0.85) rotate(-28)" font-size="8.2" text-anchor="end" fill="#404040" stroke="#404040" stroke-width="0.2">A2013</text>
<text transform="translate(89,599) scale(1,0.85) rotate(-28)" font-size="8.2" text-anchor="end" fill="#404040" stroke="#404040" stroke-width="0.2">A2050</text>
<text transform="translate(151.05,599) scale(1,0.85) rotate(-28)" font-size="8.2" text-anchor="end" fill="#404040" stroke="#404040" stroke-width="0.2">B2013</text>
<text transform="translate(181.85,599) scale(1,0.85) rotate(-28)" font-size="8.2" text-anchor="end" fill="#404040" stroke="#404040" stroke-width="0.2">B2050</text>
<text transform="translate(244.15,599) scale(1,0.85) rotate(-28)" font-size="8.2" text-anchor="end" fill="#404040" stroke="#404040" stroke-width="0.2">C2013</text>
<text transform="translate(275,599) scale(1,0.85) rotate(-28)" font-size="8.2" text-anchor="end" fill="#404040" stroke="#404040" stroke-width="0.2">C2050</text>
<text transform="translate(337.35,599) scale(1,0.85) rotate(-28)" font-size="8.2" text-anchor="end" fill="#404040" stroke="#404040" stroke-width="0.2">D2013</text>
<text transform="translate(368.35,599) scale(1,0.85) rotate(-28)" font-size="8.2" text-anchor="end" fill="#404040" stroke="#404040" stroke-width="0.2">D2050</text>
<text transform="translate(430.4,599) scale(1,0.85) rotate(-28)" font-size="8.2" text-anchor="end" fill="#404040" stroke="#404040" stroke-width="0.2">E2050</text>
<text transform="translate(492.1,599) scale(1,0.85) rotate(-28)" font-size="8.2" text-anchor="end" fill="#404040" stroke="#404040" stroke-width="0.2">F2050</text>
<text transform="translate(16.6,496.7) scale(1,0.85) rotate(-90)" font-size="7.9" text-anchor="middle" fill="#404040" stroke="#404040" stroke-width="0.2">g/p/day</text>
<text transform="translate(70.9,624.2) scale(1,0.82)" font-size="7.95" text-anchor="middle" font-weight="bold" fill="#262626" stroke="#262626" stroke-width="0.08">Base</text>
<text transform="translate(163.2,624.2) scale(1,0.82)" font-size="7.95" text-anchor="middle" font-weight="bold" fill="#262626" stroke="#262626" stroke-width="0.08">No animal feed</text>
<text transform="translate(256.9,624.2) scale(1,0.82)" font-size="7.95" text-anchor="middle" font-weight="bold" fill="#262626" stroke="#262626" stroke-width="0.08">No waste or</text>
<text transform="translate(256.9,631.1) scale(1,0.82)" font-size="7.95" text-anchor="middle" font-weight="bold" fill="#262626" stroke="#262626" stroke-width="0.08">excess</text>
<text transform="translate(350.3,624.2) scale(1,0.82)" font-size="7.95" text-anchor="middle" font-weight="bold" fill="#262626" stroke="#262626" stroke-width="0.08">50% less animal</text>
<text transform="translate(350.3,631.1) scale(1,0.82)" font-size="7.95" text-anchor="middle" font-weight="bold" fill="#262626" stroke="#262626" stroke-width="0.08">feed, waste &amp; excess</text>
<text transform="translate(430.2,624.2) scale(1,0.82)" font-size="7.95" text-anchor="middle" font-weight="bold" fill="#262626" stroke="#262626" stroke-width="0.08">2013</text>
<text transform="translate(430.2,631.1) scale(1,0.82)" font-size="7.95" text-anchor="middle" font-weight="bold" fill="#262626" stroke="#262626" stroke-width="0.08">diet</text>
<text transform="translate(488.4,624.2) scale(1,0.82)" font-size="7.95" text-anchor="middle" font-weight="bold" fill="#262626" stroke="#262626" stroke-width="0.08">FAO</text>
<text transform="translate(488.4,631.1) scale(1,0.82)" font-size="7.95" text-anchor="middle" font-weight="bold" fill="#262626" stroke="#262626" stroke-width="0.08">projected</text>
<text transform="translate(488.4,638) scale(1,0.82)" font-size="7.95" text-anchor="middle" font-weight="bold" fill="#262626" stroke="#262626" stroke-width="0.08">2050 diet</text>
<rect x="33.6" y="648.6" width="5.2" height="4.1" fill="#C00000"/>
<text transform="translate(41,653.2) scale(1,0.88)" font-size="8.6" text-anchor="start" fill="#1f1f1f" stroke="#1f1f1f" stroke-width="0.15" textLength="72.9" lengthAdjust="spacingAndGlyphs">Meat &amp; dairy eaten</text>
<rect x="190.2" y="648.6" width="5.2" height="4.1" fill="#8BAF42"/>
<text transform="translate(197.2,653.2) scale(1,0.88)" font-size="8.6" text-anchor="start" fill="#1f1f1f" stroke="#1f1f1f" stroke-width="0.15" textLength="102" lengthAdjust="spacingAndGlyphs">Vegetal required and eaten</text>
<rect x="346" y="648.6" width="5.2" height="4.1" fill="#191819"/>
<text transform="translate(354.2,653.2) scale(1,0.88)" font-size="8.6" text-anchor="start" fill="#1f1f1f" stroke="#1f1f1f" stroke-width="0.15" textLength="91.3" lengthAdjust="spacingAndGlyphs">Net excess consumption</text>
<rect x="33.6" y="662" width="5.2" height="4.1" fill="#FFC000"/>
<text transform="translate(40.8,666.6) scale(1,0.88)" font-size="8.6" text-anchor="start" fill="#1f1f1f" stroke="#1f1f1f" stroke-width="0.15" textLength="31.5" lengthAdjust="spacingAndGlyphs">Invested</text>
<rect x="190.2" y="662" width="5.2" height="4.1" fill="#029BCF"/>
<text transform="translate(197.9,666.6) scale(1,0.88)" font-size="8.6" text-anchor="start" fill="#1f1f1f" stroke="#1f1f1f" stroke-width="0.15" textLength="54.2" lengthAdjust="spacingAndGlyphs">Non-food uses</text>
<rect x="346" y="662" width="5.2" height="4.1" fill="#404040"/>
<text transform="translate(354.2,666.6) scale(1,0.88)" font-size="8.6" text-anchor="start" fill="#1f1f1f" stroke="#1f1f1f" stroke-width="0.15" textLength="23.6" lengthAdjust="spacingAndGlyphs">Waste</text>
<ellipse cx="36.1" cy="678.2" rx="3.1" ry="1.75" transform="rotate(30 36.1 678.2)" fill="#8B3E0E"/>
<text transform="translate(40.6,680) scale(1,0.88)" font-size="8.6" text-anchor="start" fill="#1f1f1f" stroke="#1f1f1f" stroke-width="0.15" textLength="144.4" lengthAdjust="spacingAndGlyphs">Animal losses (grass, pasture &amp; stover)</text>
<rect x="190.2" y="675.4" width="5.2" height="4.1" fill="#8B3E0E"/>
<text transform="translate(197.5,680) scale(1,0.88)" font-size="8.6" text-anchor="start" fill="#1f1f1f" stroke="#1f1f1f" stroke-width="0.15" textLength="73.1" lengthAdjust="spacingAndGlyphs">Animal losses (feed)</text>
</svg>
</body></html>
